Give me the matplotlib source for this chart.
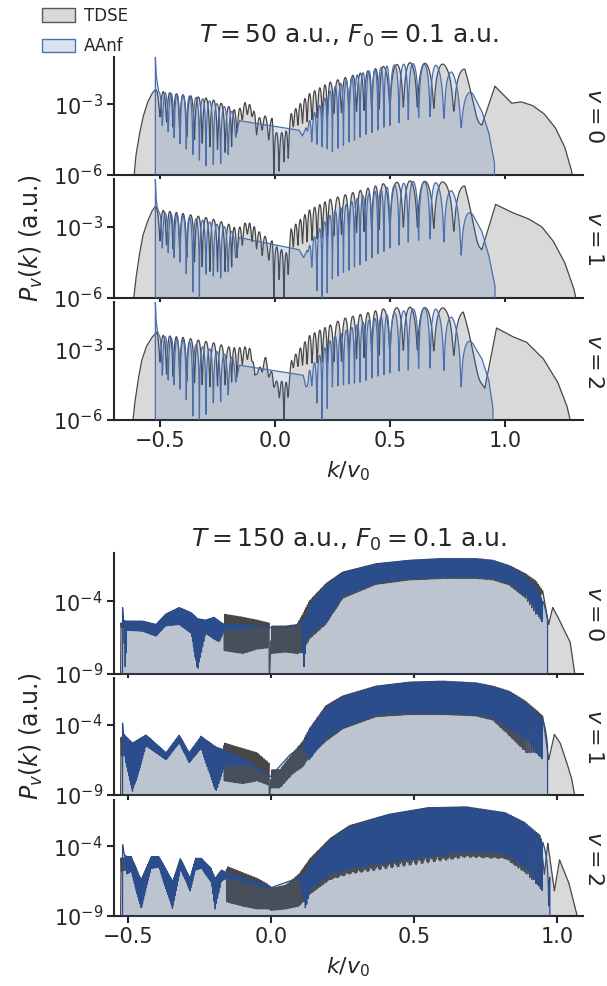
import numpy as np
import matplotlib
matplotlib.use("Agg")
import matplotlib.pyplot as plt
from matplotlib.patches import Patch
from matplotlib.ticker import FixedLocator, LogFormatterMathtext, NullLocator

# --------------------------------------------------------
# Data (log10 of P_v(k))
# every curve: nodes k, upper envelope hi, lower envelope lo
# fringes run between hi and lo, counted by the phase tables
# --------------------------------------------------------

# fringe phase (cumulative fringe count) for T = 50
t50_tdse_phase_k = [-0.62, -0.52, -0.50, -0.40, -0.283, -0.20, -0.165, -0.13, -0.10, -0.08,
                    -0.043, -0.012, -0.005, 0.03, 0.058, 0.07, 0.15, 0.24, 0.47, 0.53,
                    0.587, 0.652, 0.73, 0.826, 0.90, 1.35]
t50_tdse_phase_n = [0, 0.5, 1, 4.5, 8, 10.5, 12, 13.5, 15, 16,
                    17.5, 18.5, 19, 20.5, 22, 22.5, 26.5, 30.5, 37.5, 38.5,
                    39.5, 40.5, 41.5, 42.5, 43, 43]
t50_aanf_phase_k = [-0.53, -0.52, -0.505, -0.49, -0.40, -0.30, -0.22, -0.17, 0.14, 0.16,
                    0.25, 0.37, 0.50, 0.60, 0.70, 0.77, 0.81, 0.86, 1.0]
t50_aanf_phase_n = [0, 0, 0.5, 1, 4.5, 8, 10.5, 12, 12, 13,
                    17, 22, 27, 29.5, 31.5, 32.5, 33, 33.5, 33.5]

# fringe phase for T = 150 (dense)
t150_phase_k = [-0.53, -0.45, -0.40, -0.32, -0.26, -0.20, -0.16, -0.10, -0.05, 0.0,
                0.05, 0.09, 0.11, 0.133, 0.19, 0.25, 0.366, 0.483, 0.60, 0.716,
                0.775, 0.832, 0.89, 0.925, 0.949, 0.97, 0.984, 1.1]
t150_phase_n = [0, 25, 40, 65, 85, 100, 110, 121, 130, 139,
                148, 155, 159, 164, 176, 191, 216, 241, 266, 286,
                296, 306, 317, 322, 326.5, 327, 327.5, 328]

# T = 50, v = 0
t50_v0_tdse_k = [-0.617, -0.605, -0.59, -0.574, -0.555, -0.535, -0.52, -0.50, -0.40, -0.283,
                 -0.20, -0.165, -0.13, -0.10, -0.08, -0.043, -0.012, -0.005, 0.03, 0.058,
                 0.07, 0.15, 0.24, 0.47, 0.587, 0.73, 0.826, 0.90, 0.957, 1.03,
                 1.07, 1.12, 1.17, 1.22, 1.26, 1.29, 1.30]
t50_v0_tdse_hi = [-6.5, -5.2, -4.3, -3.55, -2.95, -2.55, -2.37, -2.45, -2.6, -2.76,
                  -3.1, -3.3, -2.93, -3.05, -3.6, -3.5, -3.6, -4.2, -4.2, -4.1,
                  -3.4, -2.55, -2.06, -1.4, -1.24, -1.3, -1.52, -3.89, -2.24, -2.96,
                  -2.9, -3.05, -3.4, -4.0, -4.8, -5.8, -6.5]
t50_v0_tdse_lo = [-6.5, -5.2, -4.3, -3.55, -2.95, -2.55, -2.37, -3.54, -4.3, -4.8,
                  -5.1, -4.2, -3.4, -3.5, -4.3, -4.0, -5.0, -6.5, -5.5, -5.3,
                  -4.0, -3.7, -3.4, -3.2, -3.1, -3.2, -3.4, -3.89, -2.24, -2.96,
                  -2.9, -3.05, -3.4, -4.0, -4.8, -5.8, -6.5]
t50_v0_aanf_k = [-0.5201, -0.52, -0.517, -0.512, -0.505, -0.49, -0.40, -0.30, -0.22, -0.17,
                 -0.155, 0.105, 0.12, 0.135, 0.16, 0.25, 0.37, 0.50, 0.60, 0.70,
                 0.77, 0.81, 0.86, 0.90, 0.93, 0.955, 0.9551]
t50_v0_aanf_hi = [-9, -1.0, -1.7, -2.1, -2.5, -2.5, -2.6, -2.8, -3.1, -3.4,
                  -3.7, -4.1, -4.35, -4.0, -3.5, -2.3, -1.7, -1.35, -1.28, -1.35,
                  -1.64, -2.2, -2.55, -3.3, -4.2, -5.5, -9]
t50_v0_aanf_lo = [-9, -1.0, -1.7, -2.1, -2.5, -3.9, -4.8, -5.6, -5.5, -4.4,
                  -3.7, -4.1, -4.35, -4.0, -4.6, -5.0, -4.4, -3.9, -3.6, -3.5,
                  -3.7, -4.0, -2.55, -3.3, -4.2, -5.5, -9]

# T = 50, v = 1
t50_v1_tdse_k = [-0.62, -0.605, -0.59, -0.575, -0.555, -0.535, -0.52, -0.50, -0.40, -0.28,
                 -0.20, -0.165, -0.12, -0.09, -0.06, -0.03, -0.012, -0.005, 0.018, 0.039,
                 0.058, 0.07, 0.15, 0.24, 0.47, 0.587, 0.73, 0.826, 0.90, 0.96,
                 1.03, 1.10, 1.16, 1.21, 1.26, 1.30, 1.32]
t50_v1_tdse_hi = [-6.5, -5.2, -4.2, -3.4, -2.8, -2.35, -2.15, -2.3, -2.45, -2.65,
                  -2.9, -3.1, -2.78, -3.0, -3.3, -3.5, -3.6, -4.0, -3.7, -4.2,
                  -4.0, -3.1, -2.3, -1.85, -1.2, -1.08, -1.12, -1.3, -3.97, -2.07,
                  -2.4, -2.66, -3.0, -3.6, -4.5, -5.6, -6.5]
t50_v1_tdse_lo = [-6.5, -5.2, -4.2, -3.4, -2.8, -2.35, -2.15, -3.6, -4.2, -4.9,
                  -4.9, -4.3, -3.3, -3.8, -4.2, -4.3, -5.0, -6.5, -5.2, -6.5,
                  -5.0, -3.9, -3.6, -3.4, -3.1, -3.0, -3.1, -3.3, -3.97, -2.07,
                  -2.4, -2.66, -3.0, -3.6, -4.5, -5.6, -6.5]
t50_v1_aanf_k = [-0.5201, -0.52, -0.517, -0.512, -0.505, -0.49, -0.40, -0.33, -0.30, -0.22,
                 -0.17, -0.155, 0.105, 0.125, 0.14, 0.16, 0.20, 0.25, 0.37, 0.50,
                 0.60, 0.70, 0.77, 0.81, 0.86, 0.90, 0.93, 0.957, 0.9571]
t50_v1_aanf_hi = [-9, -1.0, -1.8, -2.2, -2.4, -2.4, -2.55, -2.7, -2.75, -3.0,
                  -3.3, -3.46, -3.97, -4.3, -4.0, -3.6, -3.0, -2.4, -1.75, -1.3,
                  -1.1, -1.15, -1.5, -2.0, -2.49, -3.2, -4.2, -5.5, -9]
t50_v1_aanf_lo = [-9, -1.0, -1.8, -2.2, -2.4, -3.9, -4.6, -6.5, -5.0, -5.2,
                  -4.3, -3.46, -3.97, -4.3, -4.0, -4.7, -6.5, -5.2, -4.6, -3.9,
                  -3.6, -3.5, -3.8, -4.2, -2.49, -3.2, -4.2, -5.5, -9]

# T = 50, v = 2
t50_v2_tdse_k = [-0.623, -0.61, -0.595, -0.58, -0.56, -0.535, -0.514, -0.495, -0.40, -0.28,
                 -0.20, -0.167, -0.13, -0.10, -0.087, -0.04, -0.012, -0.005, 0.018, 0.039,
                 0.058, 0.072, 0.152, 0.297, 0.486, 0.587, 0.73, 0.819, 0.913, 0.964,
                 1.03, 1.094, 1.167, 1.23, 1.27, 1.296]
t50_v2_tdse_hi = [-6.5, -5.3, -4.3, -3.5, -2.9, -2.5, -2.27, -2.4, -2.5, -2.7,
                  -2.9, -2.95, -2.9, -3.0, -4.1, -3.32, -4.0, -4.4, -4.3, -4.4,
                  -4.4, -3.45, -2.4, -1.7, -1.26, -1.22, -1.25, -1.4, -4.65, -2.1,
                  -2.45, -2.7, -3.4, -4.4, -5.4, -6.5]
t50_v2_tdse_lo = [-6.5, -5.3, -4.3, -3.5, -2.9, -2.5, -2.27, -3.97, -4.3, -4.6,
                  -4.5, -4.2, -3.4, -3.5, -4.1, -3.9, -4.5, -4.6, -5.0, -6.5,
                  -5.0, -3.8, -3.6, -3.5, -3.2, -3.0, -3.1, -3.4, -4.65, -2.1,
                  -2.45, -2.7, -3.4, -4.4, -5.4, -6.5]
t50_v2_aanf_k = [-0.5201, -0.52, -0.517, -0.512, -0.505, -0.49, -0.40, -0.33, -0.28, -0.22,
                 -0.17, -0.155, 0.123, 0.135, 0.15, 0.17, 0.205, 0.25, 0.37, 0.50,
                 0.63, 0.70, 0.77, 0.81, 0.86, 0.90, 0.93, 0.948, 0.9481]
t50_v2_aanf_hi = [-9, -1.0, -1.8, -2.2, -2.4, -2.45, -2.6, -2.85, -3.0, -3.2,
                  -3.4, -3.68, -4.1, -4.6, -3.9, -3.6, -3.1, -2.5, -1.9, -1.5,
                  -1.23, -1.3, -1.65, -2.2, -2.75, -3.4, -4.3, -5.5, -9]
t50_v2_aanf_lo = [-9, -1.0, -1.8, -2.2, -2.4, -4.1, -4.8, -6.5, -5.3, -5.2,
                  -4.4, -3.68, -4.1, -4.6, -4.5, -4.6, -6.5, -4.6, -4.4, -4.0,
                  -3.8, -3.8, -4.0, -4.6, -2.75, -3.4, -4.3, -5.5, -9]

# T = 150, v = 0
t150_v0_tdse_k = [-0.527, -0.526, -0.45, -0.403, -0.37, -0.322, -0.28, -0.258, -0.23, -0.20,
                  -0.182, -0.165, -0.164, -0.10, -0.05, -0.008, -0.007, 0.0, 0.05, 0.09,
                  0.11, 0.133, 0.19, 0.25, 0.366, 0.483, 0.60, 0.716, 0.775, 0.832,
                  0.89, 0.925, 0.949, 0.97, 0.984, 1.00, 1.02, 1.045, 1.065]
t150_v0_tdse_hi = [-9.5, -5.5, -5.5, -5.7, -5.0, -4.55, -4.9, -5.3, -5.4, -5.2,
                   -5.45, -5.65, -4.9, -5.1, -5.3, -5.5, -9.5, -5.7, -5.7, -5.6,
                   -4.9, -4.0, -2.82, -2.0, -1.43, -1.2, -1.08, -1.08, -1.2, -1.55,
                   -2.13, -2.6, -3.3, -5.6, -4.44, -5.0, -5.83, -6.8, -9.5]
t150_v0_tdse_lo = [-9.5, -5.8, -5.8, -6.1, -5.5, -5.4, -5.9, -8.0, -6.0, -6.3,
                   -6.5, -5.8, -7.4, -7.6, -7.3, -7.2, -9.5, -7.6, -7.5, -7.6,
                   -7.5, -6.6, -5.6, -3.8, -2.85, -2.55, -2.45, -2.45, -2.55, -2.9,
                   -3.8, -4.9, -3.3, -5.6, -4.44, -5.0, -5.83, -6.8, -9.5]
t150_v0_aanf_k = [-0.5201, -0.52, -0.517, -0.51, -0.505, -0.45, -0.403, -0.37, -0.322, -0.28,
                  -0.258, -0.23, -0.20, -0.182, -0.164, -0.10, -0.007, 0.075, 0.105, 0.113,
                  0.125, 0.133, 0.19, 0.25, 0.366, 0.483, 0.60, 0.716, 0.775, 0.832,
                  0.89, 0.925, 0.949, 0.966, 0.9661]
t150_v0_aanf_hi = [-9.5, -4.44, -5.3, -5.37, -5.37, -5.37, -5.6, -4.9, -4.44, -4.8,
                   -5.2, -5.3, -5.1, -5.37, -5.6, -5.6, -5.83, -5.75, -5.5, -5.3,
                   -5.0, -4.3, -2.9, -2.05, -1.45, -1.2, -1.08, -1.08, -1.2, -1.6,
                   -2.3, -3.0, -4.0, -4.6, -9.5]
t150_v0_aanf_lo = [-9.5, -4.44, -5.3, -9.0, -6.0, -6.06, -6.4, -5.7, -5.6, -6.2,
                   -8.8, -6.2, -6.6, -6.8, -6.0, -5.9, -5.83, -5.75, -5.5, -8.8,
                   -6.5, -6.3, -5.5, -3.6, -2.75, -2.46, -2.35, -2.35, -2.45, -2.75,
                   -3.6, -4.7, -5.5, -5.5, -9.5]

# T = 150, v = 1
t150_v1_tdse_k = [-0.527, -0.526, -0.51, -0.485, -0.438, -0.368, -0.322, -0.287, -0.246, -0.193,
                  -0.170, -0.164, -0.10, -0.05, -0.008, -0.007, 0.0, 0.03, 0.075, 0.11,
                  0.133, 0.19, 0.25, 0.366, 0.483, 0.60, 0.716, 0.775, 0.832, 0.89,
                  0.925, 0.949, 0.97, 0.99, 1.01, 1.03, 1.05, 1.065]
t150_v1_tdse_hi = [-9.5, -4.9, -4.95, -5.4, -4.85, -6.1, -4.85, -6.1, -4.95, -5.7,
                   -5.9, -5.31, -5.7, -6.0, -6.74, -9.5, -7.2, -7.2, -6.02, -5.2,
                   -4.3, -2.69, -1.97, -1.27, -0.99, -0.92, -1.04, -1.27, -1.63, -2.35,
                   -2.95, -3.4, -6.5, -4.71, -5.3, -6.5, -7.8, -9.5]
t150_v1_tdse_lo = [-9.5, -6.2, -6.2, -8.0, -5.3, -6.3, -5.1, -6.5, -5.5, -8.0,
                   -6.8, -8.0, -8.2, -8.0, -8.3, -9.5, -8.5, -8.5, -7.5, -7.0,
                   -6.3, -5.2, -4.3, -3.45, -3.3, -3.3, -3.4, -3.7, -4.8, -6.0,
                   -6.0, -3.4, -6.5, -4.71, -5.3, -6.5, -7.8, -9.5]
t150_v1_aanf_k = [-0.5201, -0.52, -0.518, -0.51, -0.485, -0.438, -0.368, -0.322, -0.287, -0.246,
                  -0.193, -0.164, -0.08, -0.0035, 0.064, 0.11, 0.133, 0.19, 0.25, 0.366,
                  0.483, 0.60, 0.716, 0.775, 0.832, 0.89, 0.925, 0.95, 0.966, 0.9661]
t150_v1_aanf_hi = [-9.5, -3.9, -4.6, -4.83, -5.31, -4.74, -6.0, -4.74, -6.0, -4.83,
                   -5.6, -5.8, -6.6, -7.7, -6.17, -5.5, -4.4, -2.8, -2.05, -1.3,
                   -1.0, -0.93, -1.05, -1.3, -1.7, -2.5, -3.1, -3.7, -4.5, -9.5]
t150_v1_aanf_lo = [-9.5, -3.9, -4.6, -6.5, -8.9, -5.5, -6.5, -5.3, -6.7, -5.7,
                   -8.8, -6.9, -6.9, -7.7, -6.17, -5.5, -6.5, -5.0, -4.2, -3.3,
                   -3.15, -3.2, -3.3, -3.5, -4.3, -5.0, -6.0, -6.5, -6.5, -9.5]

# T = 150, v = 2
t150_v2_tdse_k = [-0.527, -0.526, -0.49, -0.455, -0.42, -0.393, -0.345, -0.318, -0.284, -0.265,
                  -0.244, -0.21, -0.196, -0.175, -0.16, -0.155, -0.10, -0.05, -0.012, 0.001,
                  0.05, 0.097, 0.137, 0.205, 0.273, 0.41, 0.546, 0.681, 0.818, 0.886,
                  0.94, 0.955, 0.967, 0.99, 1.008, 1.04, 1.076]
t150_v2_tdse_hi = [-9.5, -4.85, -4.85, -6.5, -4.85, -4.85, -6.6, -4.95, -6.4, -4.95,
                   -4.95, -5.7, -6.4, -5.8, -5.95, -5.45, -5.9, -6.3, -6.73, -7.0,
                   -6.8, -6.0, -4.86, -3.47, -2.53, -1.72, -1.25, -1.18, -1.6, -2.3,
                   -3.23, -6.0, -3.81, -7.2, -4.98, -6.6, -9.5]
t150_v2_tdse_lo = [-9.5, -5.8, -5.6, -8.3, -5.4, -5.3, -8.3, -5.4, -7.0, -5.5,
                   -5.4, -6.4, -8.3, -6.3, -6.2, -8.0, -8.3, -8.5, -8.5, -8.6,
                   -8.5, -8.3, -7.4, -6.4, -6.0, -5.6, -5.2, -4.8, -4.9, -5.9,
                   -7.0, -6.0, -3.81, -7.2, -4.98, -6.6, -9.5]
t150_v2_aanf_k = [-0.5201, -0.52, -0.514, -0.505, -0.49, -0.455, -0.42, -0.393, -0.345, -0.318,
                  -0.284, -0.265, -0.244, -0.21, -0.196, -0.175, -0.155, -0.012, 0.001, 0.05,
                  0.097, 0.12, 0.137, 0.205, 0.273, 0.41, 0.546, 0.681, 0.818, 0.886,
                  0.94, 0.965, 0.974, 0.9741]
t150_v2_aanf_hi = [-9.5, -3.9, -4.6, -4.75, -4.75, -6.4, -4.75, -4.75, -6.5, -4.87,
                   -6.3, -4.87, -4.87, -5.6, -6.3, -5.7, -5.9, -6.8, -6.96, -6.6,
                   -6.26, -5.8, -5.2, -3.6, -2.6, -1.75, -1.27, -1.2, -1.62, -2.35,
                   -3.3, -4.5, -5.5, -9.5]
t150_v2_aanf_lo = [-9.5, -3.9, -4.6, -6.0, -5.8, -8.5, -5.6, -5.5, -8.5, -5.6,
                   -7.2, -5.7, -5.6, -6.6, -8.5, -6.5, -6.3, -7.0, -6.96, -6.6,
                   -6.26, -8.5, -7.0, -6.0, -5.6, -5.2, -4.8, -4.4, -4.5, -5.5,
                   -7.0, -8.0, -8.5, -9.5]

vib_labels = ["$v = 0$", "$v = 1$", "$v = 2$"]
titles = ["$T = 50$ a.u., $F_0 = 0.1$ a.u.", "$T = 150$ a.u., $F_0 = 0.1$ a.u."]
x_ticks = [-0.5, 0.0, 0.5, 1.0]


# --------------------------------------------------------
# Build a fringed spectrum from its envelopes
# --------------------------------------------------------

def spectrum(k_nodes, hi, lo, phase_k, phase_n, num):

    k = np.union1d(np.linspace(k_nodes[0], k_nodes[-1], num), k_nodes)

    h = 10.0 ** np.interp(k, k_nodes, hi)
    l = 10.0 ** np.interp(k, k_nodes, lo)

    ph = np.interp(k, phase_k, phase_n)

    return k, l + (h - l) * np.sin(np.pi * ph) ** 2


# --------------------------------------------------------
# Style
# --------------------------------------------------------

plt.rcParams["font.family"] = ["DejaVu Sans"]
plt.rcParams["axes.spines.top"] = False
plt.rcParams["axes.spines.right"] = False
plt.rcParams["axes.edgecolor"] = "0.15"
plt.rcParams["axes.linewidth"] = 1.5
plt.rcParams["xtick.major.width"] = 1.5
plt.rcParams["ytick.major.width"] = 1.5
plt.rcParams["xtick.major.size"] = 5
plt.rcParams["ytick.major.size"] = 5
plt.rcParams["xtick.color"] = "0.15"
plt.rcParams["ytick.color"] = "0.15"
plt.rcParams["text.color"] = "0.15"
plt.rcParams["axes.labelcolor"] = "0.15"

TDSE_LINE = "0.28"
AANF_FILL = "#4c72b0"

FS = 15

fig = plt.figure(figsize=(6.07, 9.86), dpi=100)

H = 986.0
left = 114 / 607
width = (583 - 114) / 607

rows_px = [(57, 175), (179, 298), (302, 420), (553, 674), (678, 795), (800, 916)]

groups = [

    dict(
        curves=[
            (t50_v0_tdse_k, t50_v0_tdse_hi, t50_v0_tdse_lo, t50_v0_aanf_k, t50_v0_aanf_hi, t50_v0_aanf_lo),
            (t50_v1_tdse_k, t50_v1_tdse_hi, t50_v1_tdse_lo, t50_v1_aanf_k, t50_v1_aanf_hi, t50_v1_aanf_lo),
            (t50_v2_tdse_k, t50_v2_tdse_hi, t50_v2_tdse_lo, t50_v2_aanf_k, t50_v2_aanf_hi, t50_v2_aanf_lo),
        ],
        tdse_phase=(t50_tdse_phase_k, t50_tdse_phase_n),
        aanf_phase=(t50_aanf_phase_k, t50_aanf_phase_n),
        num=6000,
        lw=0.9,
        aanf_color="#4a6fae",
        xlim=(-0.7, 1.34),
        ylim=(1e-6, 1e-1),
        yticks=[1e-6, 1e-3],
        title_pad=10,
    ),

    dict(
        curves=[
            (t150_v0_tdse_k, t150_v0_tdse_hi, t150_v0_tdse_lo, t150_v0_aanf_k, t150_v0_aanf_hi, t150_v0_aanf_lo),
            (t150_v1_tdse_k, t150_v1_tdse_hi, t150_v1_tdse_lo, t150_v1_aanf_k, t150_v1_aanf_hi, t150_v1_aanf_lo),
            (t150_v2_tdse_k, t150_v2_tdse_hi, t150_v2_tdse_lo, t150_v2_aanf_k, t150_v2_aanf_hi, t150_v2_aanf_lo),
        ],
        tdse_phase=(t150_phase_k, t150_phase_n),
        aanf_phase=(t150_phase_k, t150_phase_n),
        num=40000,
        lw=0.9,
        aanf_color="#2c4d8c",
        xlim=(-0.55, 1.09),
        ylim=(1e-9, 10 ** -0.7),
        yticks=[1e-9, 1e-4],
        title_pad=4,
    ),

]

for g, group in enumerate(groups):

    for i, (tk, thi, tlo, ak, ahi, alo) in enumerate(group["curves"]):

        top, bot = rows_px[3 * g + i]

        ax = fig.add_axes([left, 1 - bot / H, width, (bot - top) / H])

        ax.set_yscale("log")

        kt, yt = spectrum(tk, thi, tlo, *group["tdse_phase"], group["num"])
        ka, ya = spectrum(ak, ahi, alo, *group["aanf_phase"], group["num"])

        ax.fill_between(kt, yt, 1e-12, color="k", alpha=0.15, lw=0, zorder=1)
        ax.plot(kt, yt, color=TDSE_LINE, lw=group["lw"], zorder=2)

        ax.fill_between(ka, ya, 1e-12, color=AANF_FILL, alpha=0.2, lw=0, zorder=3)
        ax.plot(ka, ya, color=group["aanf_color"], lw=group["lw"], zorder=4)

        ax.set_xlim(*group["xlim"])
        ax.set_ylim(*group["ylim"])

        ax.yaxis.set_major_locator(FixedLocator(group["yticks"]))
        ax.yaxis.set_major_formatter(LogFormatterMathtext())
        ax.yaxis.set_minor_locator(NullLocator())

        ax.set_xticks(x_ticks)

        ax.tick_params(labelsize=FS, pad=3)

        if i < 2:
            ax.set_xticklabels([])
        else:
            ax.set_xlabel("$k/v_0$", fontsize=16, labelpad=6)

        ax.text(1.003, 0.5, vib_labels[i], transform=ax.transAxes,
                rotation=-90, va="center", ha="left", fontsize=16)

        if i == 0:
            ax.set_title(titles[g], fontsize=18, pad=group["title_pad"])

        if i == 1:
            ax.set_ylabel("$P_v(k)$ (a.u.)", fontsize=17, labelpad=6)

handles = [
    Patch(facecolor=(0, 0, 0, 0.15), edgecolor="0.35", label="TDSE"),
    Patch(facecolor=(0.298, 0.447, 0.690, 0.2), edgecolor="#4c72b0", label="AAnf"),
]

fig.legend(
    handles=handles,
    loc="upper left",
    bbox_to_anchor=(0.05, 1.005),
    frameon=False,
    fontsize=12,
    handlelength=2.0,
    handleheight=0.9,
    handletextpad=0.5,
    labelspacing=0.75,
    borderpad=0.2,
)

fig.savefig("out.png", dpi=100)
